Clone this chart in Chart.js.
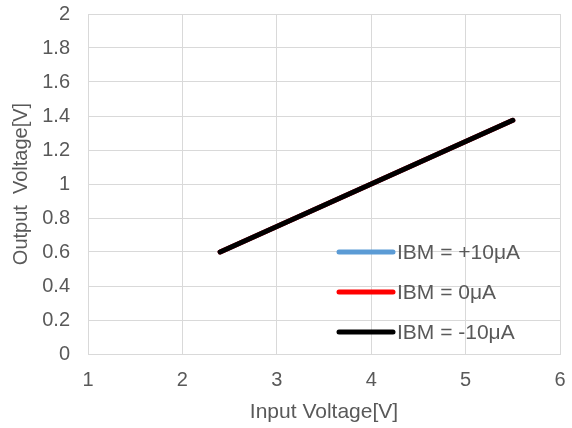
<!DOCTYPE html>
<html>
<head>
<meta charset="utf-8">
<script src="https://cdn.jsdelivr.net/npm/chart.js@4"></script>
<style>
  html, body { margin: 0; padding: 0; background: #fff; }
  #wrap { width: 572px; height: 428px; }
</style>
</head>
<body>
<div id="wrap"><canvas id="chartVout"></canvas></div>
<script>
// input voltage [V]
let inputV = [2.4, 2.5, 3, 3.5, 4, 4.5, 5, 5.5];

// output voltage [V] per bias current
let voutPlus10 = [0.6, 0.625, 0.75, 0.875, 1.0, 1.125, 1.25, 1.375];
let voutZero = [0.6, 0.625, 0.75, 0.875, 1.0, 1.125, 1.25, 1.375];
let voutMinus10 = [0.6, 0.625, 0.75, 0.875, 1.0, 1.125, 1.25, 1.375];

let seriesNames = ['IBM = +10μA', 'IBM = 0μA', 'IBM = -10μA'];
let seriesColors = ['#5b9bd5', '#ff0000', '#000000'];

let xTicks = [1, 2, 3, 4, 5, 6];
let yTicks = ['0', '0.2', '0.4', '0.6', '0.8', '1', '1.2', '1.4', '1.6', '1.8', '2'];

let grey = '#595959';
let gridGrey = '#d9d9d9';
let fontFam = '"Liberation Sans", Arial, sans-serif';

let toPoints = (xs, ys) => xs.map((x, i) => ({ x: x, y: ys[i] }));

let seriesData = [voutPlus10, voutZero, voutMinus10];

let datasets = [];
for (let i = 0; i < seriesData.length; i++) {
    datasets.push({
        label: seriesNames[i],
        data: toPoints(inputV, seriesData[i]),
        borderColor: seriesColors[i],
        backgroundColor: seriesColors[i],
        borderWidth: 5,
        borderCapStyle: 'round',
        borderJoinStyle: 'round',
        pointRadius: 0,
        fill: false,
        order: seriesData.length - i
    });
}

// legend drawn inside plot area, lower right
let insideLegend = {
    id: 'insideLegend',
    afterDraw(chart) {
        let ctx = chart.ctx;
        let area = chart.chartArea;
        let x0 = area.right - 221;
        let lineLen = 54;
        ctx.save();
        ctx.font = '21px ' + fontFam;
        ctx.textBaseline = 'middle';
        ctx.textAlign = 'left';
        chart.data.datasets.forEach((ds, i) => {
            let y = area.top + 238 + i * 40;
            ctx.strokeStyle = ds.borderColor;
            ctx.lineWidth = 5;
            ctx.lineCap = 'round';
            ctx.beginPath();
            ctx.moveTo(x0, y);
            ctx.lineTo(x0 + lineLen, y);
            ctx.stroke();
            ctx.fillStyle = grey;
            ctx.fillText(ds.label, x0 + lineLen + 4, y + 1);
        });
        ctx.restore();
    }
};

let ctxVout = document.querySelector('#chartVout').getContext('2d');

let config = {
    type: 'line',
    data: { datasets: datasets },
    options: {
        responsive: true,
        maintainAspectRatio: false,
        animation: false,
        layout: { padding: { top: 14, right: 12, left: 0, bottom: 0 } },
        plugins: {
            legend: { display: false },
            tooltip: { enabled: false }
        },
        scales: {
            x: {
                type: 'linear',
                min: xTicks[0],
                max: xTicks[xTicks.length - 1],
                afterBuildTicks: (scale) => { scale.ticks = xTicks.map(v => ({ value: v })); },
                afterFit: (scale) => {
                    scale.height = 74;
                    scale.paddingLeft = 0;
                    scale.paddingRight = 0;
                },
                grid: { color: gridGrey, lineWidth: 1, tickLength: 0 },
                border: { color: gridGrey, width: 1 },
                ticks: {
                    color: grey,
                    padding: 14,
                    font: { family: fontFam, size: 20 },
                    maxRotation: 0
                },
                title: {
                    display: true,
                    text: 'Input Voltage[V]',
                    color: grey,
                    font: { family: fontFam, size: 21 },
                    padding: { top: 0, bottom: 3 }
                }
            },
            y: {
                type: 'linear',
                min: 0,
                max: 2,
                afterBuildTicks: (scale) => { scale.ticks = yTicks.map(v => ({ value: parseFloat(v) })); },
                afterFit: (scale) => {
                    scale.width = 88;
                    scale.paddingTop = 0;
                    scale.paddingBottom = 0;
                },
                grid: { color: gridGrey, lineWidth: 1, tickLength: 0 },
                border: { color: gridGrey, width: 1 },
                ticks: {
                    color: grey,
                    padding: 18,
                    font: { family: fontFam, size: 20 },
                    callback: (v, i) => yTicks[i]
                },
                title: {
                    display: true,
                    text: 'Output  Voltage[V]',
                    color: grey,
                    font: { family: fontFam, size: 20 },
                    padding: { top: 9, bottom: 0 }
                }
            }
        }
    },
    plugins: [insideLegend]
};

let chartVout = new Chart(ctxVout, config);
</script>
</body>
</html>
